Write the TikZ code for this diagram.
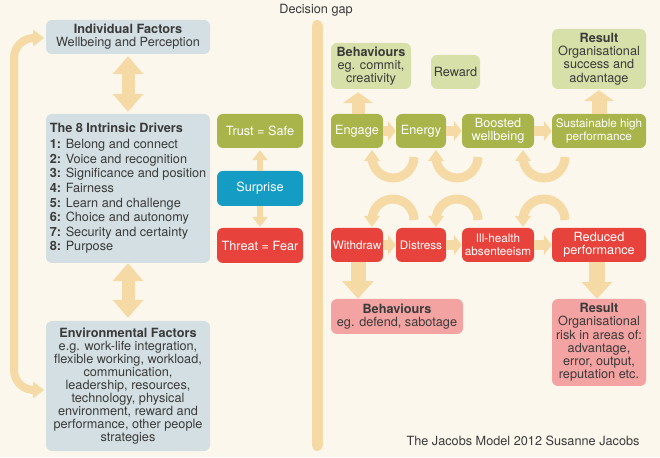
\documentclass[tikz,border=0pt]{standalone}
\usepackage{fontspec}
\setmainfont{TeX Gyre Heros}
\usetikzlibrary{arrows.meta}
\definecolor{bgc}{HTML}{FCF7EC}
\definecolor{arrc}{HTML}{F5DAA6}
\definecolor{greyc}{HTML}{D3DFE2}
\definecolor{olivec}{HTML}{A9B54B}
\definecolor{lgreenc}{HTML}{D7E0A9}
\definecolor{tealc}{HTML}{149CC4}
\definecolor{redc}{HTML}{E8423C}
\definecolor{pinkc}{HTML}{F3A3A1}
\definecolor{txt}{HTML}{3A3A3A}
\begin{document}
\begin{tikzpicture}[x=1pt,y=1pt,
  base/.style={rounded corners=6pt, inner sep=0pt, align=center, font=\fontsize{12.7}{13.3}\selectfont},
  greybox/.style={base, fill=greyc, text=txt},
  olivebox/.style={base, fill=olivec, text=white},
  lgreenbox/.style={base, fill=lgreenc, text=txt},
  tealbox/.style={base, fill=tealc, text=white},
  redbox/.style={base, fill=redc, text=white},
  pinkbox/.style={base, fill=pinkc, text=txt},
  small/.style={font=\fontsize{11.7}{13}\selectfont},
  dbl/.style={draw=arrc, line width=13pt, {Triangle[width=30pt,length=18pt]}-{Triangle[width=30pt,length=18pt]}},
  thinarr/.style={draw=arrc, line width=6pt, -{Triangle[width=15pt,length=10pt]}},
  uparr/.style={draw=arrc, line width=13pt, -{Triangle[width=30pt,length=11pt]}},
  downarr/.style={draw=arrc, line width=15pt, -{Triangle[width=31pt,length=18pt]}},
  harr/.style={draw=arrc, line width=10pt, -{Triangle[width=20pt,length=8pt]}},
  arcline/.style={draw=arrc, line width=9pt},
  loopline/.style={draw=arrc, line width=8pt}
]
\fill[bgc] (0,0) rectangle (660,457);
\useasboundingbox (0,0) rectangle (660,457);

% divider
\draw[arrc, line width=11pt, line cap=round] (317,431.5) -- (317,11.5);
\node[text=txt, font=\fontsize{12.7}{13.3}\selectfont] (gap) at (316,447) {Decision gap};

% left column
\node[greybox, minimum width=164, minimum height=34] (ind) at (128,420)
  {\textbf{Individual Factors}\\Wellbeing and Perception};
\node[greybox, minimum width=164, minimum height=149, align=left,
  font=\fontsize{12.7}{14.6}\selectfont] (drv) at (128,268.5)
  {\textbf{The 8 Intrinsic Drivers}\\[1.2pt]
   \textbf{1:} Belong and connect\\
   \textbf{2:} Voice and recognition\\
   \textbf{3:} Significance and position\\
   \textbf{4:} Fairness\\
   \textbf{5:} Learn and challenge\\
   \textbf{6:} Choice and autonomy\\
   \textbf{7:} Security and certainty\\
   \textbf{8:} Purpose};
\node[greybox, minimum width=164, minimum height=130, font=\fontsize{12.7}{13}\selectfont] (env) at (128,71)
  {\textbf{Environmental Factors}\\e.g. work-life integration,\\flexible working, workload,\\communication,\\leadership, resources,\\technology, physical\\environment, reward and\\performance, other people\\strategies};

\draw[dbl, shorten <=2pt, shorten >=2pt] (ind.south) -- (drv.north);
\draw[dbl, shorten >=3pt] (drv.south) -- (env.north);

% left loop
\draw[loopline] (34,419) arc[start angle=90, end angle=180, radius=20] -- (14,87)
  arc[start angle=180, end angle=270, radius=20];
\fill[arrc] (33,427.5) -- (44,419) -- (33,410.5) -- cycle;
\fill[arrc] (33,75.5) -- (44,67) -- (33,58.5) -- cycle;

% trust / surprise / threat
\node[olivebox, minimum width=86, minimum height=34] (trust) at (260,326) {Trust = Safe};
\node[tealbox, minimum width=86, minimum height=35] (surp) at (260,268.5) {Surprise};
\node[redbox, minimum width=86, minimum height=35] (threat) at (260,211.5) {Threat = Fear};
\draw[thinarr, shorten >=2pt] (surp.north) -- (trust.south);
\draw[thinarr, shorten >=1pt] (surp.south) -- (threat.north);

% green row
\node[olivebox, minimum width=52, minimum height=34] (engage) at (357,326) {Engage};
\node[olivebox, minimum width=50, minimum height=34] (energy) at (421,326) {Energy};
\node[olivebox, minimum width=72, minimum height=34] (boost) at (498,326) {Boosted\\wellbeing};
\node[olivebox, small, minimum width=94, minimum height=34] (sust) at (599,326) {Sustainable high\\performance};
\node[lgreenbox, minimum width=80, minimum height=46] (behg) at (371,391) {\textbf{Behaviours}\\eg. commit,\\creativity};
\node[lgreenbox, minimum width=49, minimum height=34] (reward) at (455.5,385) {Reward};
\node[lgreenbox, minimum width=94, minimum height=60] (resg) at (599,398) {\textbf{Result}\\Organisational\\success and\\advantage};

\draw[harr] (engage.east) -- (energy.west);
\draw[harr] (energy.east) -- (boost.west);
\draw[harr] (boost.east) -- (sust.west);
\draw[uparr, shorten >=3pt] (engage.north) ++(1,0) coordinate (eu) -- (eu |- behg.south);
\draw[uparr, line width=15pt, shorten >=1pt] (sust.north) -- (resg.south);

% red row
\node[redbox, small, minimum width=52, minimum height=34] (withdraw) at (357,212) {Withdraw};
\node[redbox, small, minimum width=50, minimum height=34] (distress) at (421,212) {Distress};
\node[redbox, small, minimum width=72, minimum height=34] (ill) at (498,212) {Ill-health\\absenteeism};
\node[redbox, minimum width=94, minimum height=34] (reduced) at (599,212) {Reduced\\performance};
\node[pinkbox, minimum width=132, minimum height=35] (behr) at (397,140.5) {\textbf{Behaviours}\\eg. defend, sabotage};
\node[pinkbox, minimum width=94, minimum height=87] (resr) at (599,114.5)
  {\textbf{Result}\\Organisational\\risk in areas of:\\advantage,\\error, output,\\reputation etc.};

\draw[harr] (withdraw.east) -- (distress.west);
\draw[harr] (distress.east) -- (ill.west);
\draw[harr] (ill.east) -- (reduced.west);
\draw[downarr] (withdraw.south) ++(1,0) coordinate (wd) -- (wd |- behr.north);
\draw[downarr, line width=16pt, -{Triangle[width=30pt,length=17pt]}] (reduced.south) ++(-2,0) coordinate (rd) -- (rd |- resr.north);

% curved arrows between rows
\foreach \cx in {393,457,544}{
  \draw[arcline] (\cx+21,300) arc[start angle=0, end angle=-180, radius=21];
  \fill[arrc] (\cx-29,296) -- (\cx-13,296) -- (\cx-21,307) -- cycle;
  \draw[arcline] (\cx+21,237) arc[start angle=0, end angle=180, radius=21];
  \fill[arrc] (\cx-29,241) -- (\cx-13,241) -- (\cx-21,230) -- cycle;
}

\node[text=txt, font=\fontsize{12.7}{13.3}\selectfont] (credit) at (523,16) {The Jacobs Model 2012 Susanne Jacobs};
\end{tikzpicture}
\end{document}
